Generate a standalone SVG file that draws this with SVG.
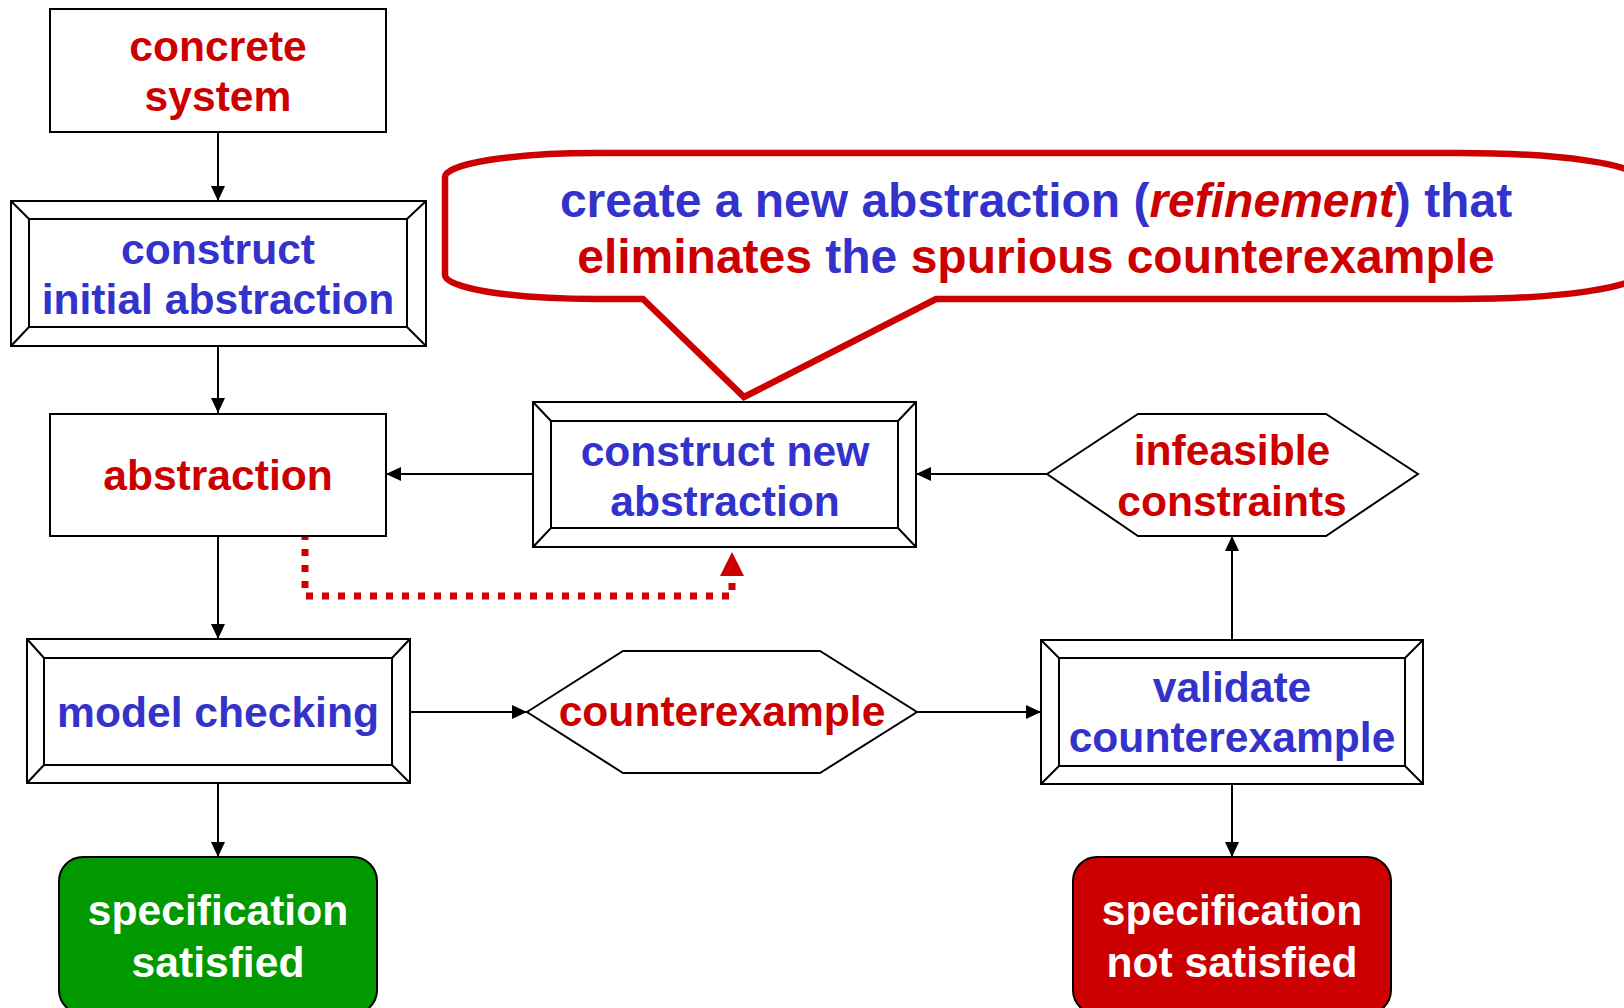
<svg xmlns="http://www.w3.org/2000/svg" width="1624" height="1008" viewBox="0 0 1624 1008">
  <style>
    text { font-family: "Liberation Sans", Arial, sans-serif; font-weight: bold; font-size: 42.6px; text-anchor: middle; }
    .blue { fill: #3333CC; }
    .red { fill: #CC0000; }
    .white { fill: #FFFFFF; }
    .box { fill: #FFFFFF; stroke: #000000; stroke-width: 2; }
    .bevel { fill: none; stroke: #000000; stroke-width: 2; }
    .edge { fill: none; stroke: #000000; stroke-width: 2; marker-end: url(#arrow); }
    .callout-text { font-size: 48px; }
  </style>
  <defs>
    <marker id="arrow" markerUnits="userSpaceOnUse" markerWidth="16" markerHeight="16" refX="15" refY="7" orient="auto">
      <path d="M0,0 L15,7 L0,14 Z" fill="#000000"/>
    </marker>
  </defs>

  <rect width="1624" height="1008" fill="#FFFFFF"/>

  <!-- connectors -->
  <g id="connectors">
    <path class="edge" d="M218,132 V201"/>
    <path class="edge" d="M218,346 V413"/>
    <path class="edge" d="M218,536 V639"/>
    <path class="edge" d="M218,783 V857"/>
    <path class="edge" d="M533,474 H386"/>
    <path class="edge" d="M1047,474 H916"/>
    <path class="edge" d="M410,712 H527"/>
    <path class="edge" d="M917,712 H1041"/>
    <path class="edge" d="M1232,640 V536"/>
    <path class="edge" d="M1232,784 V857"/>
    <!-- dotted refinement feedback -->
    <path d="M305,533 V596 H732 V578" fill="none" stroke="#CC0000" stroke-width="7" stroke-dasharray="7 9"/>
    <path d="M732,552 L744,576 L720,576 Z" fill="#CC0000"/>
  </g>

  <!-- callout -->
  <g id="callout">
    <path d="M643,299 L744,397 L936,299 H1460 A180 26 0 0 0 1640 273 V179 A180 26 0 0 0 1460 153 H595 A150 24 0 0 0 445 177 V275 A150 24 0 0 0 595 299 Z"
          fill="#FFFFFF" stroke="#CC0000" stroke-width="6.5" stroke-linejoin="miter"/>
    <text class="callout-text" x="1036" y="217"><tspan class="blue">create a new abstraction (</tspan><tspan class="red" font-style="italic">refinement</tspan><tspan class="blue">) that</tspan></text>
    <text class="callout-text" x="1036" y="273"><tspan class="red">eliminates </tspan><tspan class="blue">the </tspan><tspan class="red">spurious counterexample</tspan></text>
  </g>

  <!-- concrete system -->
  <g id="concrete-system">
    <rect class="box" x="50" y="9" width="336" height="123"/>
    <text class="red" x="218" y="61">concrete</text>
    <text class="red" x="218" y="111">system</text>
  </g>

  <!-- construct initial abstraction -->
  <g id="construct-initial">
    <rect class="box" x="11" y="201" width="415" height="145"/>
    <rect class="bevel" x="29" y="219" width="378" height="108"/>
    <path class="bevel" d="M11,201 L29,219 M426,201 L407,219 M11,346 L29,327 M426,346 L407,327"/>
    <text class="blue" x="218" y="264">construct</text>
    <text class="blue" x="218" y="314">initial abstraction</text>
  </g>

  <!-- abstraction -->
  <g id="abstraction">
    <rect class="box" x="50" y="414" width="336" height="122"/>
    <text class="red" x="218" y="490">abstraction</text>
  </g>

  <!-- construct new abstraction -->
  <g id="construct-new">
    <rect class="box" x="533" y="402" width="383" height="145"/>
    <rect class="bevel" x="551" y="421" width="347" height="107"/>
    <path class="bevel" d="M533,402 L551,421 M916,402 L898,421 M533,547 L551,528 M916,547 L898,528"/>
    <text class="blue" x="725" y="466">construct new</text>
    <text class="blue" x="725" y="516">abstraction</text>
  </g>

  <!-- infeasible constraints -->
  <g id="infeasible">
    <polygon class="box" points="1047,474 1138,414 1326,414 1418,474 1326,536 1138,536"/>
    <text class="red" x="1232" y="465">infeasible</text>
    <text class="red" x="1232" y="516">constraints</text>
  </g>

  <!-- model checking -->
  <g id="model-checking">
    <rect class="box" x="27" y="639" width="383" height="144"/>
    <rect class="bevel" x="44" y="658" width="348" height="107"/>
    <path class="bevel" d="M27,639 L44,658 M410,639 L392,658 M27,783 L44,765 M410,783 L392,765"/>
    <text class="blue" x="218" y="727">model checking</text>
  </g>

  <!-- counterexample -->
  <g id="counterexample">
    <polygon class="box" points="527,712 623,651 820,651 917,712 820,773 623,773"/>
    <text class="red" x="722" y="726">counterexample</text>
  </g>

  <!-- validate counterexample -->
  <g id="validate">
    <rect class="box" x="1041" y="640" width="382" height="144"/>
    <rect class="bevel" x="1059" y="658" width="346" height="108"/>
    <path class="bevel" d="M1041,640 L1059,658 M1423,640 L1405,658 M1041,784 L1059,766 M1423,784 L1405,766"/>
    <text class="blue" x="1232" y="702">validate</text>
    <text class="blue" x="1232" y="752">counterexample</text>
  </g>

  <!-- specification satisfied -->
  <g id="spec-satisfied">
    <rect x="59" y="857" width="318" height="157" rx="24" ry="24" fill="#009900" stroke="#000000" stroke-width="2"/>
    <text class="white" x="218" y="925">specification</text>
    <text class="white" x="218" y="977">satisfied</text>
  </g>

  <!-- specification not satisfied -->
  <g id="spec-not-satisfied">
    <rect x="1073" y="857" width="318" height="157" rx="24" ry="24" fill="#CC0000" stroke="#000000" stroke-width="2"/>
    <text class="white" x="1232" y="925">specification</text>
    <text class="white" x="1232" y="977">not satisfied</text>
  </g>
</svg>
